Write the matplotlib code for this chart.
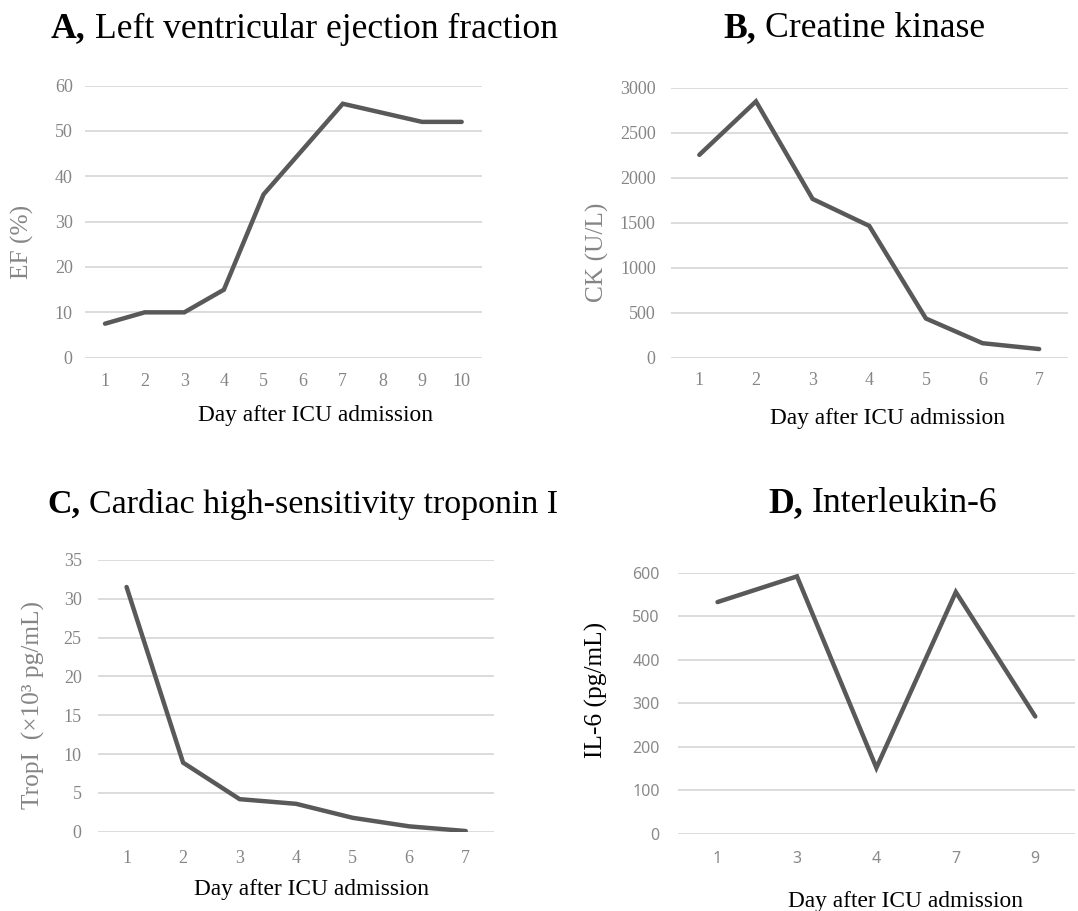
import matplotlib
matplotlib.use('Agg')
import matplotlib.pyplot as plt

plt.rcParams['font.family'] = ['Liberation Serif', 'DejaVu Serif']

# data
ef_days = ['1', '2', '3', '4', '5', '6', '7', '8', '9', '10']
ef_values = [7.5, 10, 10, 15, 36, 46, 56, 54, 52, 52]

ck_days = ['1', '2', '3', '4', '5', '6', '7']
ck_values = [2255, 2850, 1765, 1465, 435, 160, 95]

trop_days = ['1', '2', '3', '4', '5', '6', '7']
trop_values = [31.5, 8.9, 4.2, 3.6, 1.8, 0.7, 0.1]

il6_days = ['1', '3', '4', '7', '9']
il6_values = [533, 592, 152, 556, 270]

W, H = 1078, 911
fig = plt.figure(figsize=(W / 100, H / 100), dpi=100)

LINE = '#595959'
GRID = '#d9d9d9'
TICK = '#858585'


def px_axes(left, top, right, bottom):
    return fig.add_axes([left / W, 1 - bottom / H, (right - left) / W, (bottom - top) / H])


def fx(x):
    return x / W


def fy(y):
    return 1 - y / H


def style(ax, days, values, ymax, ystep, xpad, ypad, sans=False):
    pos = list(range(len(days)))
    ax.plot(pos, values, color=LINE, lw=3.2, solid_capstyle='round', solid_joinstyle='miter', zorder=3)
    ax.set_xlim(-0.5, len(days) - 0.5)
    ax.set_ylim(0, ymax)
    ax.set_yticks(range(0, ymax + 1, ystep))
    ax.set_xticks(pos)
    ax.set_xticklabels(days)
    ax.grid(axis='y', color=GRID, lw=1.3, zorder=0)
    ax.set_axisbelow(True)
    for s in ax.spines.values():
        s.set_visible(False)
    ax.tick_params(length=0, colors=TICK, labelsize=13)
    ax.tick_params(axis='x', pad=xpad)
    ax.tick_params(axis='y', pad=ypad)
    if sans:
        for lab in ax.get_xticklabels() + ax.get_yticklabels():
            lab.set_fontfamily('Noto Sans')
            lab.set_fontsize(11.5)
            lab.set_color('#8a8a8a')
    ax.patch.set_alpha(0)


# A
axA = px_axes(85.2, 85.6, 481.5, 357.7)
style(axA, ef_days, ef_values, 60, 10, 11, 9)
# B
axB = px_axes(671, 87.9, 1067.5, 357.6)
style(axB, ck_days, ck_values, 3000, 500, 10.5, 11)
# C
axC = px_axes(98.3, 559.8, 494, 831.8)
style(axC, trop_days, trop_values, 35, 5, 13, 12)
# D
axD = px_axes(677.8, 572.9, 1075, 834)
style(axD, il6_days, il6_values, 600, 100, 12.5, 13, sans=True)

# titles: bold letter, then the plain part right after it
renderer = fig.canvas.get_renderer()
titles = [('A,', 'Left ventricular ejection fraction', 51, 37.5, 25.7),
          ('B,', 'Creatine kinase', 723, 37, 25.7),
          ('C,', 'Cardiac high-sensitivity troponin I', 47, 513, 24.5),
          ('D,', 'Interleukin-6', 768, 512, 25.7)]
for bold, rest, x0, y0, size in titles:
    t = fig.text(fx(x0), fy(y0), bold, ha='left', va='baseline', fontsize=size, fontweight='bold')
    bb = t.get_window_extent(renderer)
    fig.text(fx(bb.x1 + 9), fy(y0), rest, ha='left', va='baseline', fontsize=size)

# x labels
xl = 'Day after ICU admission'
xsize = 16.8
fig.text(fx(316), fy(416), xl, ha='center', va='center', fontsize=xsize)
fig.text(fx(888), fy(418), xl, ha='center', va='center', fontsize=xsize)
fig.text(fx(312), fy(890), xl, ha='center', va='center', fontsize=xsize)
fig.text(fx(905), fy(901), xl, ha='center', va='center', fontsize=xsize)

# y labels
ysize = 18.3
fig.text(fx(22), fy(242), 'EF (%)', rotation=90, ha='center', va='center', fontsize=ysize, color=TICK)
fig.text(fx(597), fy(252), 'CK (U/L)', rotation=90, ha='center', va='center', fontsize=ysize, color=TICK)
fig.text(fx(33), fy(705), 'TropI  (×10³ pg/mL)', rotation=90, ha='center', va='center', fontsize=ysize, color=TICK)
fig.text(fx(596), fy(690), 'IL-6 (pg/mL)', rotation=90, ha='center', va='center', fontsize=ysize, color='black')

fig.savefig('out.png', dpi=100)
